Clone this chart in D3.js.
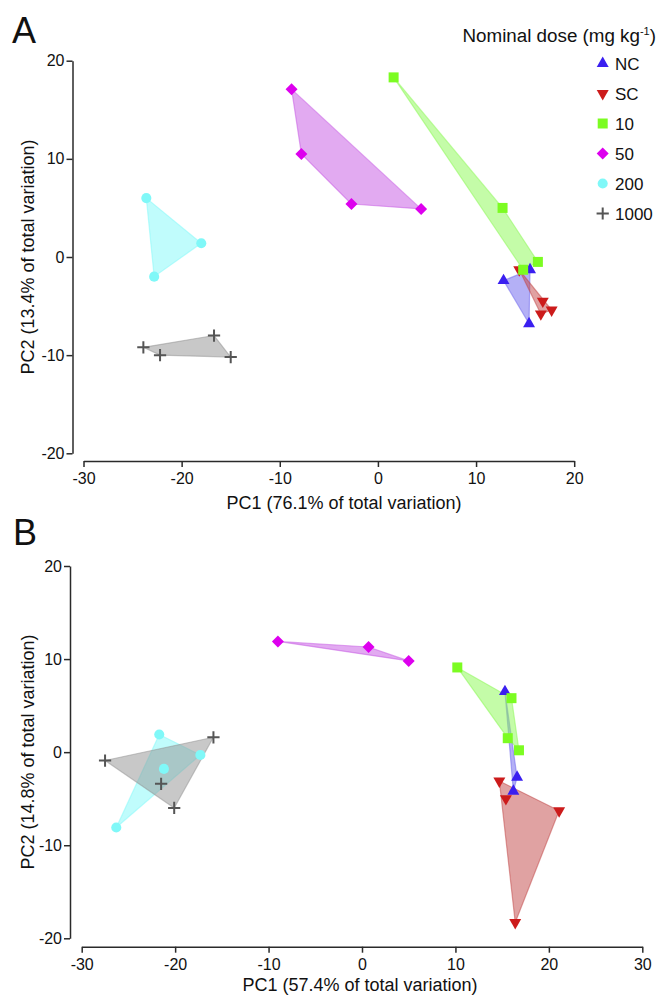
<!DOCTYPE html>
<html>
<head>
<meta charset="utf-8">
<script src="https://cdn.jsdelivr.net/npm/d3@7"></script>
<style>
  html, body { margin: 0; padding: 0; background: #fff; }
  svg { display: block; font-family: "Liberation Sans", Arial, sans-serif; }
</style>
</head>
<body>
<svg id="chart" width="659" height="995"></svg>
<script>
// Dose groups, in legend order
const doses = ["NC", "SC", "10", "50", "200", "1000"];
const legendTitle = "Nominal dose (mg kg";

// Panel A scores [PC1, PC2]
const aNC   = [[12.8, -2.4], [15.5, -1.3], [15.4, -6.8]];
const aSC   = [[14.4, -1.3], [16.8, -4.5], [16.6, -5.8], [17.7, -5.4]];
const a10   = [[1.6, 18.3], [12.7, 5.0], [16.3, -0.5], [14.8, -1.3]];
const a50   = [[-8.8, 17.1], [-7.8, 10.5], [-2.7, 5.4], [4.4, 4.9]];
const a200  = [[-23.6, 6.0], [-18.0, 1.4], [-22.8, -2.0]];
const a1000 = [[-23.9, -9.2], [-22.2, -10.0], [-16.7, -8.0], [-15.0, -10.2]];

// Panel B scores [PC1, PC2]
const bNC   = [[15.3, 6.5], [16.6, -2.7], [16.2, -4.2]];
const bSC   = [[14.7, -3.1], [15.4, -5.0], [21.1, -6.3], [16.4, -18.3]];
const b10   = [[10.2, 9.1], [16.0, 5.8], [15.6, 1.5], [16.8, 0.2]];
const b50   = [[-9.0, 11.9], [0.7, 11.3], [5.0, 9.8]];
const b200  = [[-21.7, 1.9], [-17.3, -0.3], [-21.2, -1.8], [-26.3, -8.1]];
const b1000 = [[-27.5, -0.9], [-15.9, 1.6], [-21.5, -3.4], [-20.1, -6.0]];

// Axis ticks and titles
const xTicksA = [-30, -20, -10, 0, 10, 20];
const xTicksB = [-30, -20, -10, 0, 10, 20, 30];
const yTicks  = [-20, -10, 0, 10, 20];
const xTitleA = "PC1 (76.1% of total variation)";
const yTitleA = "PC2 (13.4% of total variation)";
const xTitleB = "PC1 (57.4% of total variation)";
const yTitleB = "PC2 (14.8% of total variation)";

// Marker and hull colours per group
const markColor = { "NC": "#3a1ff0", "SC": "#cc1b1b", "10": "#7cfc22", "50": "#dd00ee", "200": "#80f8f8", "1000": "#555555" };
const hullColor = { "NC": "#6961ed", "SC": "#c14545", "10": "#89f951", "50": "#c656e4", "200": "#81f9f9", "1000": "#919191" };

const svg = d3.select("#chart");

// Marker shapes
const plusPath = { draw(ctx, size) { const r = Math.sqrt(size) / 2; ctx.moveTo(-r, 0); ctx.lineTo(r, 0); ctx.moveTo(0, -r); ctx.lineTo(0, r); } };
function markerPath(g) {
  switch (g) {
    case "NC":   return { d: d3.symbol(d3.symbolTriangle, 62)(), rot: 0 };
    case "SC":   return { d: d3.symbol(d3.symbolTriangle, 62)(), rot: 180 };
    case "10":   return { d: d3.symbol(d3.symbolSquare, 100)(), rot: 0 };
    case "50":   return { d: d3.symbol(d3.symbolSquare, 72)(), rot: 45 };
    case "200":  return { d: d3.symbol(d3.symbolCircle, 80)(), rot: 0 };
    case "1000": return { d: d3.symbol(plusPath, 150)(), rot: 0 };
  }
}
function drawMarker(sel, g, cx, cy) {
  const m = markerPath(g);
  const p = sel.append("path")
    .attr("d", m.d)
    .attr("transform", `translate(${cx},${cy}) rotate(${m.rot})`);
  if (g === "1000") {
    p.attr("fill", "none").attr("stroke", markColor[g]).attr("stroke-width", 2);
  } else {
    p.attr("fill", markColor[g]);
  }
}

// Plain hyphen for negative tick labels
const tickFmt = d => String(d);

function drawPanel(cfg) {
  const x = d3.scaleLinear().domain(cfg.xDomain).range(cfg.xRange);
  const y = d3.scaleLinear().domain([-20, 20]).range(cfg.yRange);
  const g = svg.append("g");

  // Panel letter
  g.append("text").attr("x", cfg.letterPos[0]).attr("y", cfg.letterPos[1])
    .attr("font-size", 36).attr("fill", "#111").text(cfg.letter);

  // Y axis
  const ya = g.append("g").attr("transform", `translate(${cfg.yAxisX},0)`)
    .call(d3.axisLeft(y).tickValues(yTicks).tickFormat(tickFmt).tickSize(6).tickSizeOuter(0).tickPadding(2));
  // X axis (offset below the plot)
  const xa = g.append("g").attr("transform", `translate(0,${cfg.xAxisY})`)
    .call(d3.axisBottom(x).tickValues(cfg.xTicks).tickFormat(tickFmt).tickSize(6).tickSizeOuter(0).tickPadding(5.5));
  [ya, xa].forEach(a => {
    a.selectAll("path, line").attr("stroke", "#2a2a2a").attr("stroke-width", 1.5);
    a.selectAll("text").attr("font-size", 16).attr("fill", "#111")
      .attr("font-family", "'Liberation Sans', Arial, sans-serif");
  });

  // Axis titles
  g.append("text").attr("x", cfg.xTitlePos[0]).attr("y", cfg.xTitlePos[1])
    .attr("text-anchor", "middle").attr("font-size", 18).attr("fill", "#111").text(cfg.xTitle);
  g.append("text").attr("transform", `translate(${cfg.yTitlePos[0]},${cfg.yTitlePos[1]}) rotate(-90)`)
    .attr("text-anchor", "middle").attr("font-size", 18).attr("fill", "#111").text(cfg.yTitle);

  // Convex hulls
  const hulls = g.append("g");
  doses.forEach(d => {
    const pts = cfg.groups[d].map(p => [x(p[0]), y(p[1])]);
    const hull = d3.polygonHull(pts);
    hulls.append("path")
      .attr("d", "M" + hull.map(p => p.join(",")).join("L") + "Z")
      .attr("fill", hullColor[d]).attr("fill-opacity", 0.5)
      .attr("stroke", hullColor[d]).attr("stroke-opacity", 0.5)
      .attr("stroke-width", 1.2).attr("stroke-linejoin", "round");
  });

  // Markers
  const marks = g.append("g");
  doses.forEach(d => {
    cfg.groups[d].forEach(p => drawMarker(marks, d, x(p[0]), y(p[1])));
  });
}

drawPanel({
  letter: "A", letterPos: [12, 42.5],
  xDomain: [-30, 20], xRange: [83.5, 574.2], yRange: [453.3, 60.7],
  yAxisX: 72.5, xAxisY: 461, xTicks: xTicksA,
  xTitle: xTitleA, xTitlePos: [344, 509],
  yTitle: yTitleA, yTitlePos: [34, 257],
  groups: { "NC": aNC, "SC": aSC, "10": a10, "50": a50, "200": a200, "1000": a1000 }
});

drawPanel({
  letter: "B", letterPos: [13, 545],
  xDomain: [-30, 30], xRange: [81.7, 642.3], yRange: [938.3, 566],
  yAxisX: 70, xAxisY: 946.7, xTicks: xTicksB,
  xTitle: xTitleB, xTitlePos: [360, 991],
  yTitle: yTitleB, yTitlePos: [34, 752],
  groups: { "NC": bNC, "SC": bSC, "10": b10, "50": b50, "200": b200, "1000": b1000 }
});

// Legend
const leg = svg.append("g");
const lt = leg.append("text").attr("x", 462.5).attr("y", 41.5).attr("font-size", 18.8).attr("fill", "#111");
lt.append("tspan").text(legendTitle);
lt.append("tspan").attr("font-size", 11).attr("dy", -7).text("-1");
lt.append("tspan").attr("dy", 7).text(")");
doses.forEach((d, i) => {
  const cy = 63.5 + i * 30;
  drawMarker(leg, d, 602.7, cy);
  leg.append("text").attr("x", 615).attr("y", cy + 6.2)
    .attr("font-size", 17).attr("fill", "#111").text(d);
});
</script>
</body>
</html>
